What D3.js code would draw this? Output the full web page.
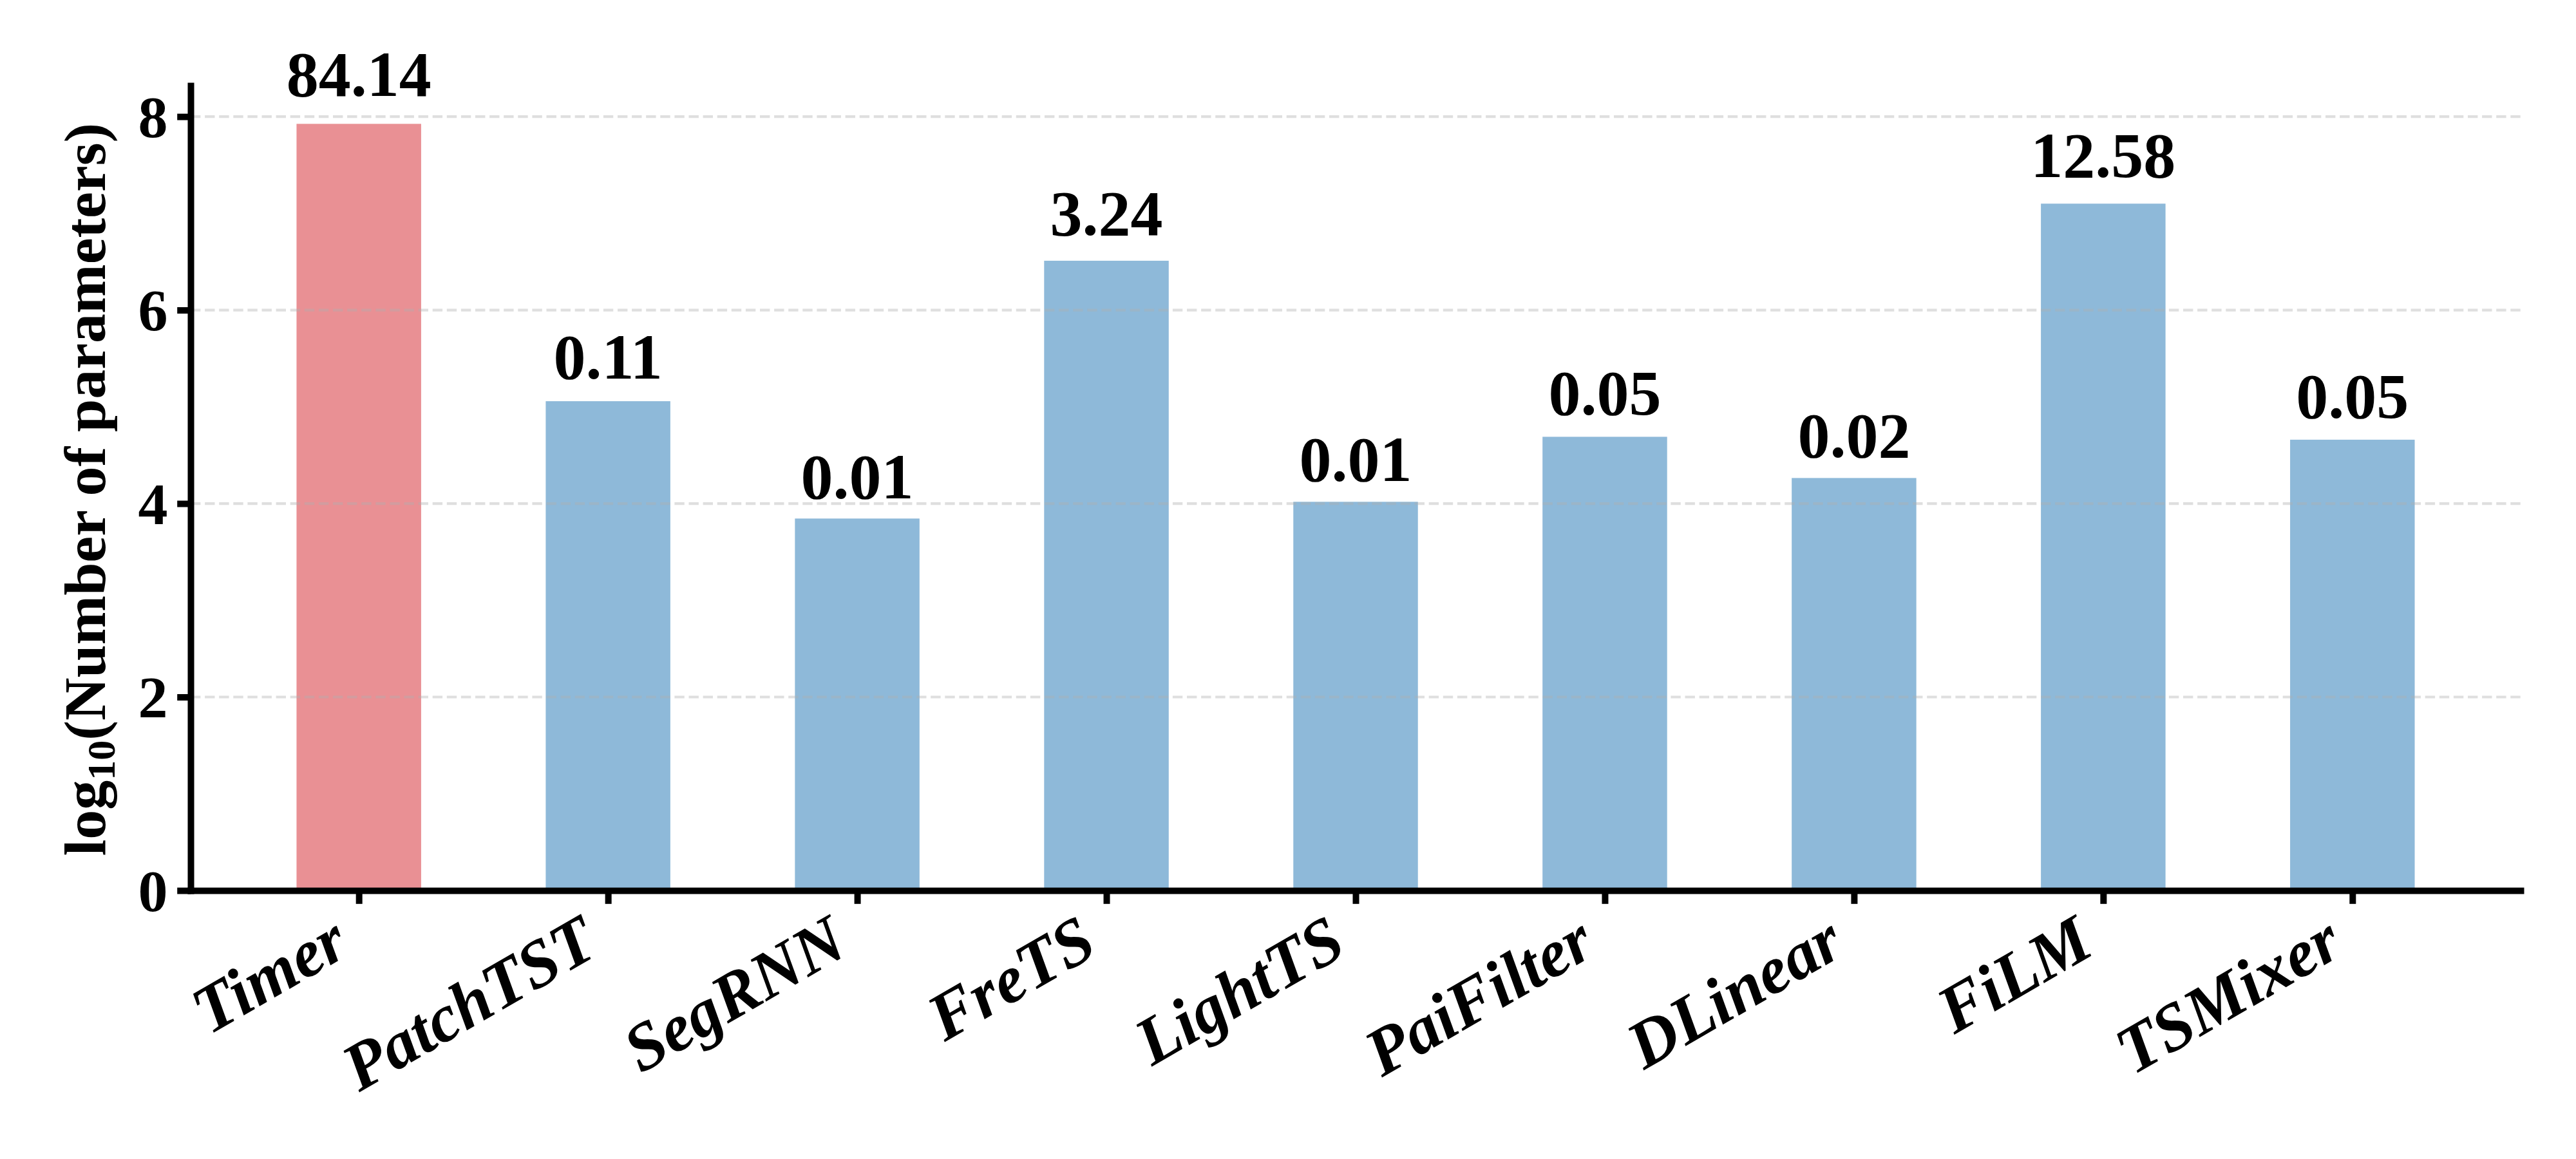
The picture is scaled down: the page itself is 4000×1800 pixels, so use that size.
<!DOCTYPE html>
<html>
<head>
<meta charset="utf-8">
<script src="https://cdn.jsdelivr.net/npm/d3@7"></script>
<style>
  html, body { margin: 0; padding: 0; background: #ffffff; }
  svg { display: block; }
</style>
</head>
<body>
<svg id="chart" width="4000" height="1800"></svg>
<script>
// ---- data ----
const categories = ["Timer", "PatchTST", "SegRNN", "FreTS", "LightTS", "PaiFilter", "DLinear", "FiLM", "TSMixer"];
const logParams = [7.925, 5.058, 3.845, 6.510, 4.018, 4.690, 4.264, 7.100, 4.660];
const valueLabels = ["84.14", "0.11", "0.01", "3.24", "0.01", "0.05", "0.02", "12.58", "0.05"];
const highlighted = ["Timer"];
const yTickValues = [0, 2, 4, 6, 8];
const yLabelMain = "log";
const yLabelSub = "10";
const yLabelRest = "(Number of parameters)";

// ---- layout ----
const W = 4000, H = 1800;
const plotLeft = 296, plotRight = 3914, plotBottom = 1383, plotTop = 133;
const serif = "'Liberation Serif', 'Times New Roman', Times, serif";
const tickLen = 20.8, tickPad = 14.6, spineW = 10;
const xFont = 104, yFont = 92, valFont = 100;
const colorHi = "#E99094", colorBase = "#8EB9D9";

const svg = d3.select("#chart");
svg.append("rect").attr("width", W).attr("height", H).attr("fill", "#ffffff");

const x = d3.scaleLinear().domain([-0.675, categories.length - 1 + 0.675]).range([plotLeft, plotRight]);
const y = d3.scaleLinear().domain([0, 8.32]).range([plotBottom, plotTop]);
const barW = x(0.5) - x(0);

// bars
svg.append("g").selectAll("rect").data(categories).join("rect")
  .attr("x", (d, i) => x(i - 0.25))
  .attr("width", barW)
  .attr("y", (d, i) => y(logParams[i]))
  .attr("height", (d, i) => y(0) - y(logParams[i]))
  .attr("fill", d => highlighted.includes(d) ? colorHi : colorBase);

// grid (drawn over bars, like the reference)
svg.append("g").selectAll("line").data(yTickValues.filter(v => v > 0)).join("line")
  .attr("x1", plotLeft).attr("x2", plotRight)
  .attr("y1", d => y(d)).attr("y2", d => y(d))
  .attr("stroke", "#b0b0b0").attr("stroke-opacity", 0.4)
  .attr("stroke-width", 4.2)
  .attr("stroke-dasharray", "15.4,6.7");

// value labels
const valDescent = 0.2 * valFont;
svg.append("g").selectAll("text").data(categories).join("text")
  .attr("x", (d, i) => x(i))
  .attr("y", (d, i) => y(logParams[i] * 1.02) - valDescent)
  .attr("text-anchor", "middle")
  .attr("font-family", serif)
  .attr("font-weight", "bold")
  .attr("font-size", valFont)
  .attr("fill", "#000")
  .text((d, i) => valueLabels[i]);

// x axis
const xAxis = d3.axisBottom(x)
  .tickValues(d3.range(categories.length))
  .tickFormat(i => categories[i])
  .tickSize(tickLen)
  .tickSizeOuter(0);
const gx = svg.append("g").attr("transform", `translate(0,${plotBottom})`).call(xAxis);
gx.select(".domain").attr("stroke", "#000").attr("stroke-width", spineW).attr("stroke-linecap", "square");
gx.selectAll(".tick line").attr("stroke", "#000").attr("stroke-width", spineW);
const xA = 0.683 * xFont, xD = 0.217 * xFont;
gx.selectAll(".tick text")
  .attr("x", null).attr("y", null).attr("dy", null)
  .attr("text-anchor", "end")
  .attr("font-family", serif)
  .attr("font-weight", "bold")
  .attr("font-style", "italic")
  .attr("font-size", xFont)
  .attr("fill", "#000")
  .attr("transform", `translate(${-0.5 * xD},${tickLen + tickPad + 0.866 * xA}) rotate(-30)`);

// y axis
const yAxis = d3.axisLeft(y)
  .tickValues(yTickValues)
  .tickFormat(d3.format("d"))
  .tickSize(tickLen)
  .tickPadding(tickPad)
  .tickSizeOuter(0);
const gy = svg.append("g").attr("transform", `translate(${plotLeft},0)`).call(yAxis);
gy.select(".domain").attr("stroke", "#000").attr("stroke-width", spineW).attr("stroke-linecap", "square");
gy.selectAll(".tick line").attr("stroke", "#000").attr("stroke-width", spineW);
gy.selectAll(".tick text")
  .attr("dy", "0.34em")
  .attr("font-family", serif)
  .attr("font-weight", "bold")
  .attr("font-size", yFont)
  .attr("fill", "#000");

// y label
const yl = svg.append("text")
  .attr("transform", `translate(163,760) rotate(-90)`)
  .attr("text-anchor", "middle")
  .attr("font-family", serif)
  .attr("font-weight", "bold")
  .attr("font-size", yFont)
  .attr("fill", "#000");
yl.append("tspan").text(yLabelMain);
yl.append("tspan").attr("font-size", 62).attr("dy", 15).text(yLabelSub);
yl.append("tspan").attr("dy", -15).text(yLabelRest);
</script>
</body>
</html>
